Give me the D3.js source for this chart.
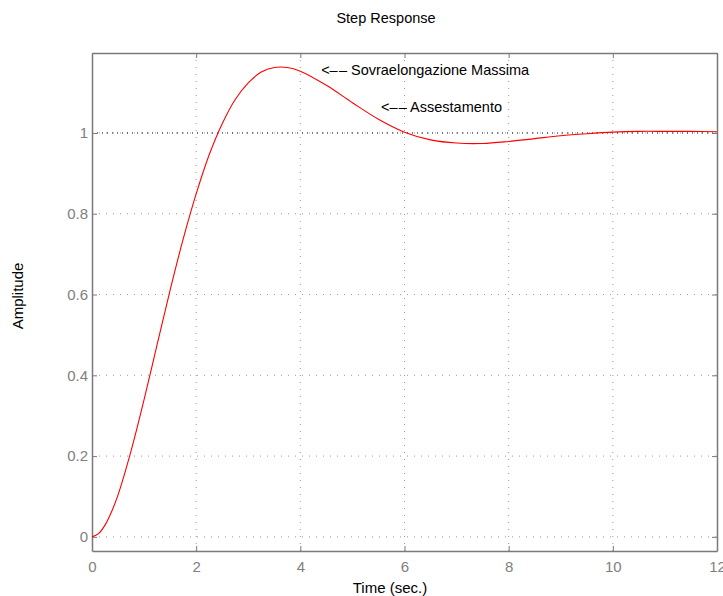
<!DOCTYPE html>
<html>
<head>
<meta charset="utf-8">
<script src="https://cdn.jsdelivr.net/npm/d3@7"></script>
<style>
  body { margin: 0; background: #fff; }
  text { font-family: "Liberation Sans", Arial, sans-serif; }
</style>
</head>
<body>
<script>
"use strict";

// step response samples
var times = [0, 0.125, 0.25, 0.375, 0.5, 0.75, 1, 1.25, 1.5, 1.75, 2, 2.25, 2.5, 2.75, 3, 3.25, 3.5, 3.75,
             4, 4.5, 5, 5.5, 6, 6.5, 7, 7.5, 8, 8.5, 9, 9.5, 10, 10.5, 11, 11.5, 12];
var amplitude = [0, 0.008, 0.029, 0.062, 0.104, 0.213, 0.340, 0.476, 0.611, 0.737, 0.849, 0.946, 1.023, 1.083, 1.124, 1.151, 1.162, 1.162,
                 1.153, 1.118, 1.075, 1.034, 1.002, 0.983, 0.975, 0.974, 0.979, 0.986, 0.993, 0.998, 1.002, 1.004, 1.004, 1.004, 1.003];

var xTicks = [0, 2, 4, 6, 8, 10, 12];
var yTicks = [0, 0.2, 0.4, 0.6, 0.8, 1];
var finalValue = 1;

var notes = [
    { t: 4.4, y: 1.156, label: "<\u2013\u200A\u2013 Sovraelongazione Massima" },
    { t: 5.55, y: 1.064, label: "<\u2013\u200A\u2013 Assestamento" }
];

var width = 723, height = 596;
var margin = { left: 92, right: 6, top: 53, bottom: 45 };

var svg = d3.select("body").append("svg")
    .attr("width", width)
    .attr("height", height);

var xScale = d3.scaleLinear()
    .domain([0, 12])
    .range([margin.left, width - margin.right]);

var yScale = d3.scaleLinear()
    .domain([-0.035, 1.198])
    .range([height - margin.bottom, margin.top]);

var x0 = xScale.range()[0], x1 = xScale.range()[1];
var y0 = yScale.range()[0], y1 = yScale.range()[1];

// dotted grid
svg.selectAll(".vgrid").data(xTicks.slice(1, -1)).enter().append("line")
    .attr("x1", d => xScale(d)).attr("x2", d => xScale(d))
    .attr("y1", y1).attr("y2", y0)
    .attr("stroke", "#9a9a9a").attr("stroke-width", 1)
    .attr("stroke-dasharray", "1,6");

svg.selectAll(".hgrid").data(yTicks).enter().append("line")
    .attr("x1", x0).attr("x2", x1)
    .attr("y1", d => yScale(d)).attr("y2", d => yScale(d))
    .attr("stroke", "#9a9a9a").attr("stroke-width", 1)
    .attr("stroke-dasharray", "1,6");

// final value line (black dotted)
svg.append("line")
    .attr("x1", x0).attr("x2", x1)
    .attr("y1", yScale(finalValue)).attr("y2", yScale(finalValue))
    .attr("stroke", "#000").attr("stroke-width", 1)
    .attr("stroke-dasharray", "1,4");

// axes: bottom/left with labels, top/right mirrored ticks only
var axisColor = "#7a7a7a";

var gx = svg.append("g")
    .attr("transform", "translate(0," + y0 + ")")
    .call(d3.axisBottom(xScale).tickValues(xTicks).tickSizeInner(-5).tickSizeOuter(0).tickPadding(10));
var gy = svg.append("g")
    .attr("transform", "translate(" + x0 + ",0)")
    .call(d3.axisLeft(yScale).tickValues(yTicks).tickFormat(d3.format("")).tickSizeInner(-5).tickSizeOuter(0).tickPadding(4));
var gt = svg.append("g")
    .attr("transform", "translate(0," + y1 + ")")
    .call(d3.axisTop(xScale).tickValues(xTicks).tickSizeInner(-5).tickSizeOuter(0).tickFormat(""));
var gr = svg.append("g")
    .attr("transform", "translate(" + x1 + ",0)")
    .call(d3.axisRight(yScale).tickValues(yTicks).tickSizeInner(-5).tickSizeOuter(0).tickFormat(""));

[gx, gy, gt, gr].forEach(function(g) {
    g.select(".domain").attr("stroke", axisColor).attr("stroke-width", 1.5);
    g.selectAll(".tick line").attr("stroke", axisColor);
    g.selectAll(".tick text").attr("fill", "#808080").style("font-size", "15px")
        .style("font-family", "'Liberation Sans', Arial, sans-serif");
});

// response curve
var line = d3.line()
    .x(function(d, i) { return xScale(times[i]); })
    .y(function(d) { return yScale(d); })
    .curve(d3.curveCatmullRom);

svg.append("path")
    .datum(amplitude)
    .attr("d", line)
    .attr("fill", "none")
    .attr("stroke", "#ff0000")
    .attr("stroke-width", 1.1);

// annotations
svg.selectAll(".note").data(notes).enter().append("text")
    .attr("x", d => xScale(d.t))
    .attr("y", d => yScale(d.y))
    .attr("dy", "0.35em")
    .style("font-size", "14.5px")
    .attr("fill", "#000")
    .text(d => d.label);

// titles
svg.append("text")
    .attr("x", 386).attr("y", 23)
    .attr("text-anchor", "middle")
    .style("font-size", "14.5px")
    .text("Step Response");

svg.append("text")
    .attr("x", 390).attr("y", 593)
    .attr("text-anchor", "middle")
    .style("font-size", "15px")
    .text("Time (sec.)");

svg.append("text")
    .attr("transform", "translate(23," + 296 + ") rotate(-90)")
    .attr("text-anchor", "middle")
    .style("font-size", "15px")
    .text("Amplitude");
</script>
</body>
</html>
